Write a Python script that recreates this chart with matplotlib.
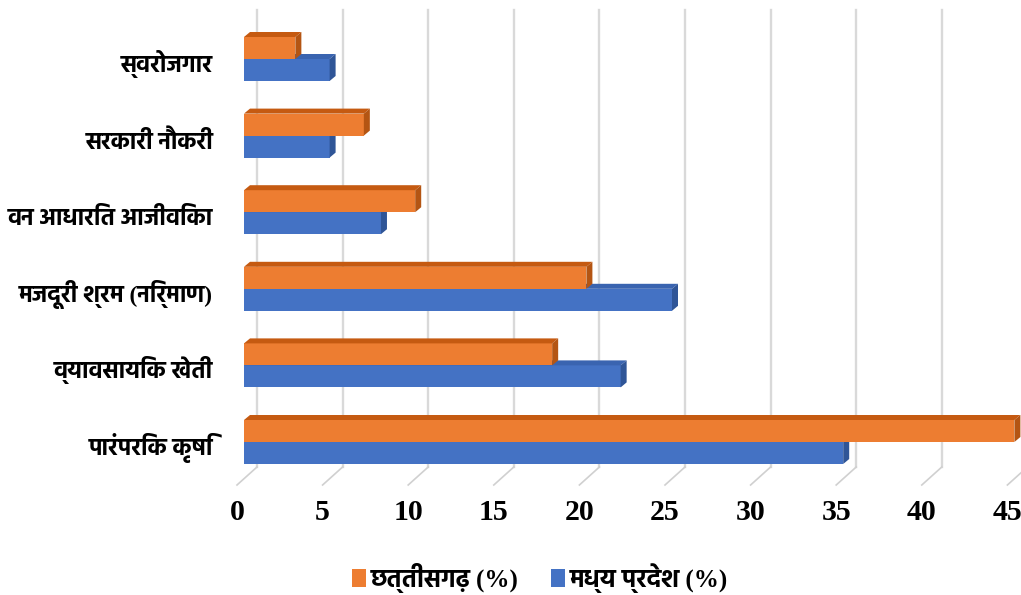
import numpy as np
import matplotlib
matplotlib.use("Agg")
import matplotlib.pyplot as plt
from matplotlib.patches import Polygon, Rectangle

categories = ["पारंपरिक कृषि", "व्यावसायिक खेती", "मजदूरी श्रम (निर्माण)",
              "वन आधारित आजीविका", "सरकारी नौकरी", "स्वरोजगार"]
chhattisgarh = [45, 18, 20, 10, 7, 3]
madhya_pradesh = [35, 22, 25, 8, 5, 5]
xticks = np.arange(0, 50, 5)
series_names = ["छत्तीसगढ़ (%)", "मध्य प्रदेश (%)"]

fonts = ["Liberation Serif", "Hind"]

W, H = 1021, 595
fig = plt.figure(figsize=(W / 100, H / 100), dpi=100)

# axes placed so that x=0 is the bar front at px 244 and categories are 76.6 px apart
px_x = 17.12
px_y = 76.6
left_px = 244
bottom_px = 442 + 0.5 * px_y
ax = fig.add_axes([left_px / W, 1 - bottom_px / H, 45 * px_x / W, 6 * px_y / H])
ax.set_xlim(0, 45)
ax.set_ylim(-0.5, 5.5)
ax.axis("off")

# 3D offsets (data units)
back_dx = 13 / px_x
dx = 6 / px_x
dy = 5 / px_y
h = 22 / px_y

# back wall gridlines + floor diagonals
g_top = (442 - 10) / px_y
g_bot = (442 - 467) / px_y
for v in xticks:
    xb = v + back_dx
    ax.plot([xb, xb], [g_bot, g_top], color="#d9d9d9", lw=1.7, clip_on=False, zorder=1)
    ax.plot([xb, xb - 20 / px_x], [g_bot, g_bot - 18 / px_y], color="#d0d0d0", lw=1.2,
            clip_on=False, zorder=1)
    ax.text(v - 7 / px_x, -1.018, str(v), ha="center", va="baseline",
            fontsize=21.5, fontweight="bold", family=fonts)


def bar3d(y0, v, front, top, side):
    ax.add_patch(Rectangle((0, y0), v, h, facecolor=front, edgecolor="none", zorder=3, clip_on=False))
    ax.add_patch(Polygon([(0, y0 + h), (v, y0 + h), (v + dx, y0 + h + dy), (dx, y0 + h + dy)],
                         closed=True, facecolor=top, edgecolor="none", zorder=3, clip_on=False))
    ax.add_patch(Polygon([(v, y0), (v, y0 + h), (v + dx, y0 + h + dy), (v + dx, y0 + dy)],
                         closed=True, facecolor=side, edgecolor="none", zorder=3, clip_on=False))


for i, cat in enumerate(categories):
    bar3d(i - h, madhya_pradesh[i], "#4472c4", "#3a64b0", "#2f5597")
    bar3d(i, chhattisgarh[i], "#ed7d31", "#c55a11", "#b45513")
    ax.text(-1.81, i - 13 / px_y, cat, ha="right", va="baseline",
            fontsize=17, fontweight="bold", family=fonts)

# legend
handles = [Rectangle((0, 0), 1, 1, facecolor="#ed7d31"),
           Rectangle((0, 0), 1, 1, facecolor="#4472c4")]
fig.legend(handles, series_names, loc="center", bbox_to_anchor=(540 / W, 1 - 578 / H),
           ncol=2, frameon=False, handlelength=0.55, handleheight=0.75, handletextpad=0.2,
           columnspacing=1.3, prop={"family": fonts, "size": 18, "weight": "bold"})

fig.savefig("out.png", dpi=100)
